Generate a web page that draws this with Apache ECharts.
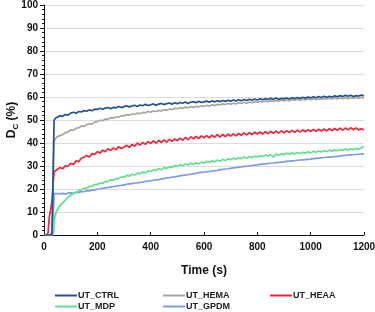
<!DOCTYPE html>
<html><head><meta charset="utf-8">
<script src="https://cdn.jsdelivr.net/npm/echarts@6/dist/echarts.min.js"></script>
<style>html,body{margin:0;padding:0;background:#fff}#c{width:375px;height:312px}</style>
</head><body><div id="c"></div>
<script>
var seriesNames = ['UT_CTRL','UT_HEMA','UT_HEAA','UT_MDP','UT_GPDM'];
var xTicks = [0,200,400,600,800,1000,1200];
var yTicks = [0,10,20,30,40,50,60,70,80,90,100];
var time = [0,10,15,20,25,30,33,36,38,40,45,50,
60,70,80,90,100,110,120,130,140,150,160,170,180,190,200,210,220,230,240,250,260,270,280,290,
300,310,320,330,340,350,360,370,380,390,400,410,420,430,440,450,460,470,480,490,
500,510,520,530,540,550,560,570,580,590,600,610,620,630,640,650,660,670,680,690,
700,710,720,730,740,750,760,770,780,790,800,810,820,830,840,850,860,870,880,890,
900,910,920,930,940,950,960,970,980,990,1000,1010,1020,1030,1040,1050,1060,1070,1080,1090,
1100,1110,1120,1130,1140,1150,1160,1170,1180,1190,1200];
var ctrl = [0,0,0,0,0,0.5,18,40,50,50.5,51,51.3,
51.8,51.6,52.4,52.1,53.0,53.4,52.9,53.7,53.5,54.1,53.8,54.4,54.0,54.7,54.6,55.1,54.7,55.2,55.4,54.9,55.5,55.3,55.9,55.4,
55.8,56.2,55.7,56.1,56.4,55.9,56.5,56.2,56.8,56.3,56.6,57.0,56.4,56.9,57.2,56.7,57.1,57.4,56.9,57.5,
57.1,57.6,57.3,57.8,57.2,57.7,58.0,57.5,58.1,57.6,57.9,58.2,57.7,58.3,57.9,58.4,58.0,58.5,58.1,58.6,
58.2,58.7,58.3,58.8,58.4,58.9,58.5,59.0,58.6,59.1,58.7,59.2,58.8,59.3,58.9,59.4,59.0,59.5,59.0,59.4,
59.2,59.6,59.1,59.7,59.3,59.8,59.4,59.9,59.5,60.0,59.6,60.1,59.7,60.2,59.8,60.3,59.9,60.3,60.0,60.5,
60.1,60.6,60.2,60.7,60.3,60.8,60.2,60.6,60.4,60.9,60.5];
var hema = [0,0,0,0,0,0.5,15,33,40,41.5,42.3,42.8,
43.2,43.6,44.5,44.8,45.7,45.5,46.4,46.6,47.4,47.2,48.0,48.4,48.2,49.1,49.3,49.9,49.7,50.4,50.3,51.0,50.8,51.4,51.2,51.9,
51.8,52.3,52.1,52.6,52.4,53.0,52.7,53.3,53.1,53.7,53.4,53.9,53.7,54.2,53.9,54.5,54.2,54.8,54.5,55.1,
54.9,55.3,55.0,55.6,55.3,55.8,55.5,56.0,55.7,56.2,55.9,56.4,56.1,56.6,56.3,56.8,56.5,57.0,56.7,57.2,
56.9,57.3,57.0,57.5,57.2,57.7,57.3,57.8,57.5,58.0,57.7,58.1,57.8,58.3,57.9,58.4,58.1,58.5,58.2,58.7,
58.3,58.7,58.4,58.9,58.5,59.0,58.6,59.0,58.7,59.2,58.8,59.2,58.9,59.3,59.0,59.4,59.1,59.5,59.1,59.6,
59.2,59.6,59.2,59.7,59.3,59.8,59.4,59.8,59.4,59.9,59.5];
var heaa = [0,0,1,8,11,15,20,25,27.5,28,28.3,28.6,
29.3,28.8,30.1,29.9,31.2,30.6,32.3,31.9,33.4,33.8,34.6,33.9,35.4,35.0,36.3,35.6,36.9,36.2,37.5,36.8,37.9,37.1,38.4,37.6,
38.2,39.0,38.1,39.4,38.6,40.0,39.1,40.3,39.4,40.6,39.8,40.9,39.9,41.2,40.2,41.4,40.4,41.6,40.7,41.8,
41.0,42.1,41.2,42.4,41.4,42.7,41.8,42.9,41.9,43.1,42.3,43.2,42.2,43.4,42.5,43.6,42.6,43.7,42.8,43.9,
43.0,44.0,43.1,44.2,43.3,44.4,43.5,44.5,43.6,44.7,43.9,44.8,43.9,44.9,44.1,45.1,44.2,45.2,44.3,45.3,
44.4,45.4,44.5,45.5,44.6,45.6,44.7,45.7,44.9,45.8,45.0,45.9,45.1,46.0,45.2,46.1,45.3,46.2,45.4,46.3,
45.5,46.4,45.6,46.5,45.7,46.6,45.8,46.5,45.7,46.2,45.6];
var mdp = [0,0,0,0,0,0,0,1,5,7.5,9.8,11.0,
12.8,14.1,15.2,16.4,17.3,18.1,18.5,19.3,19.5,20.3,20.4,21.1,21.2,21.9,22.0,22.6,22.5,23.3,23.2,24.0,23.8,24.6,24.4,25.3,
25.1,25.9,25.6,26.4,26.1,26.9,26.6,27.4,27.0,27.9,27.6,28.4,28.0,28.8,28.4,29.3,28.9,29.7,29.3,30.2,
29.8,30.6,30.1,30.9,30.4,31.2,30.7,31.4,30.9,31.7,31.3,32.0,31.6,32.3,31.8,32.6,32.1,32.8,32.4,33.1,
32.7,33.4,32.9,33.6,33.2,33.9,33.4,34.1,33.6,34.3,33.9,34.5,34.1,34.8,34.3,35.0,33.9,35.2,34.7,35.3,
34.9,35.5,35.1,35.7,35.2,35.9,35.4,36.0,35.6,36.2,35.7,36.4,35.9,36.5,36.1,36.7,36.2,36.9,36.4,37.0,
36.6,37.2,36.8,37.4,36.9,37.5,37.1,37.7,37.3,37.8,38.6];
var gpdm = [0,0,0,0,0,0,0,12,18,18.1,17.8,18.0,
17.9,18.1,17.8,18.2,18.3,18.1,18.6,18.5,18.9,18.8,19.3,19.2,19.6,19.5,20.0,20.1,20.3,20.5,20.7,20.8,21.1,21.2,21.5,21.6,
21.8,22.0,22.2,22.3,22.6,22.7,22.9,23.0,23.3,23.4,23.6,23.8,24.0,24.1,24.4,24.5,24.8,24.9,25.2,25.3,
25.5,25.7,25.9,26.0,26.3,26.4,26.7,26.8,27.1,27.2,27.3,27.5,27.7,27.8,28.0,28.1,28.4,28.5,28.7,28.8,
29.0,29.2,29.3,29.5,29.6,29.8,29.9,30.1,30.2,30.4,30.5,30.7,30.8,30.9,31.1,31.2,31.3,31.5,31.6,31.7,
31.8,32.0,32.1,32.2,32.3,32.5,32.6,32.7,32.8,32.9,33.0,33.2,33.3,33.4,33.5,33.7,33.8,33.9,34.0,34.1,
34.2,34.4,34.5,34.6,34.7,34.8,34.9,35.0,35.1,35.2,35.3];

var values = [ctrl, hema, heaa, mdp, gpdm];
var colors = ['#24518f','#a6a69c','#f5213b','#5fe08c','#7d9ce8'];
var FONT = 'Liberation Sans';

var chart = echarts.init(document.getElementById('c'), null, {renderer:'canvas'});
var series = seriesNames.map(function(n, i){
  return {
    name: n, type: 'line', showSymbol: false, symbol: 'none',
    data: time.map(function(t, k){ return [t, values[i][k]]; }),
    lineStyle: {width: 1.7, color: colors[i]},
    itemStyle: {color: colors[i]},
    z: 5 - i
  };
});
var legendPos = [[55,291],[163,291],[270,291],[55,302],[163,302]];
var legends = seriesNames.map(function(n, i){
  return {
    data: [n], left: legendPos[i][0], top: legendPos[i][1],
    icon: 'rect', itemWidth: 22, itemHeight: 2, itemGap: 0, padding: 0,
    textStyle: {fontFamily: FONT, fontWeight: 700, fontSize: 9, color: '#222', padding: [0,0,0,-4]}
  };
});
chart.setOption({
  animation: false,
  backgroundColor: '#fff',
  grid: {left: 44, right: 11, top: 5, bottom: 77, containLabel: false, outerBoundsMode: 'none'},
  legend: legends,
  xAxis: {
    type: 'value', min: xTicks[0], max: xTicks[xTicks.length-1], interval: 200,
    name: 'Time (s)', nameLocation: 'middle', nameGap: 30, nameMoveOverlap: false,
    nameTextStyle: {fontFamily: FONT, fontWeight: 700, fontSize: 12, color: '#111'},
    axisLine: {lineStyle: {color: '#111', width: 1}},
    axisTick: {show: true, inside: true, length: 3, lineStyle: {color: '#111'}},
    splitLine: {show: false},
    axisLabel: {fontFamily: FONT, fontWeight: 700, fontSize: 10, color: '#111', margin: 7,
      formatter: function(v){ return String(v); }}
  },
  yAxis: {
    type: 'value', min: yTicks[0], max: yTicks[yTicks.length-1], interval: 10,
    name: '{m|D}{s|C}{m| (%)}', nameLocation: 'middle', nameGap: 26, nameRotate: 90, nameMoveOverlap: false,
    nameTextStyle: {fontFamily: FONT, fontWeight: 700, fontSize: 12, color: '#111',
      rich: {m: {fontFamily: FONT, fontWeight: 700, fontSize: 12, color: '#111', verticalAlign: 'bottom', lineHeight: 14},
             s: {fontFamily: FONT, fontWeight: 700, fontSize: 8, color: '#111', verticalAlign: 'bottom', lineHeight: 10, padding: [0,0,-2,0]}}},
    axisLine: {show: true, lineStyle: {color: '#111', width: 1}},
    axisTick: {show: true, length: 4, lineStyle: {color: '#111'}},
    minorTick: {show: true, splitNumber: 5, length: 2, lineStyle: {color: '#111'}},
    splitLine: {show: true, lineStyle: {color: '#dcdcdc', width: 1}},
    axisLabel: {fontFamily: FONT, fontWeight: 700, fontSize: 10, color: '#111', margin: 6,
      formatter: function(v){ return String(v); }}
  },
  series: series
});
</script></body></html>
